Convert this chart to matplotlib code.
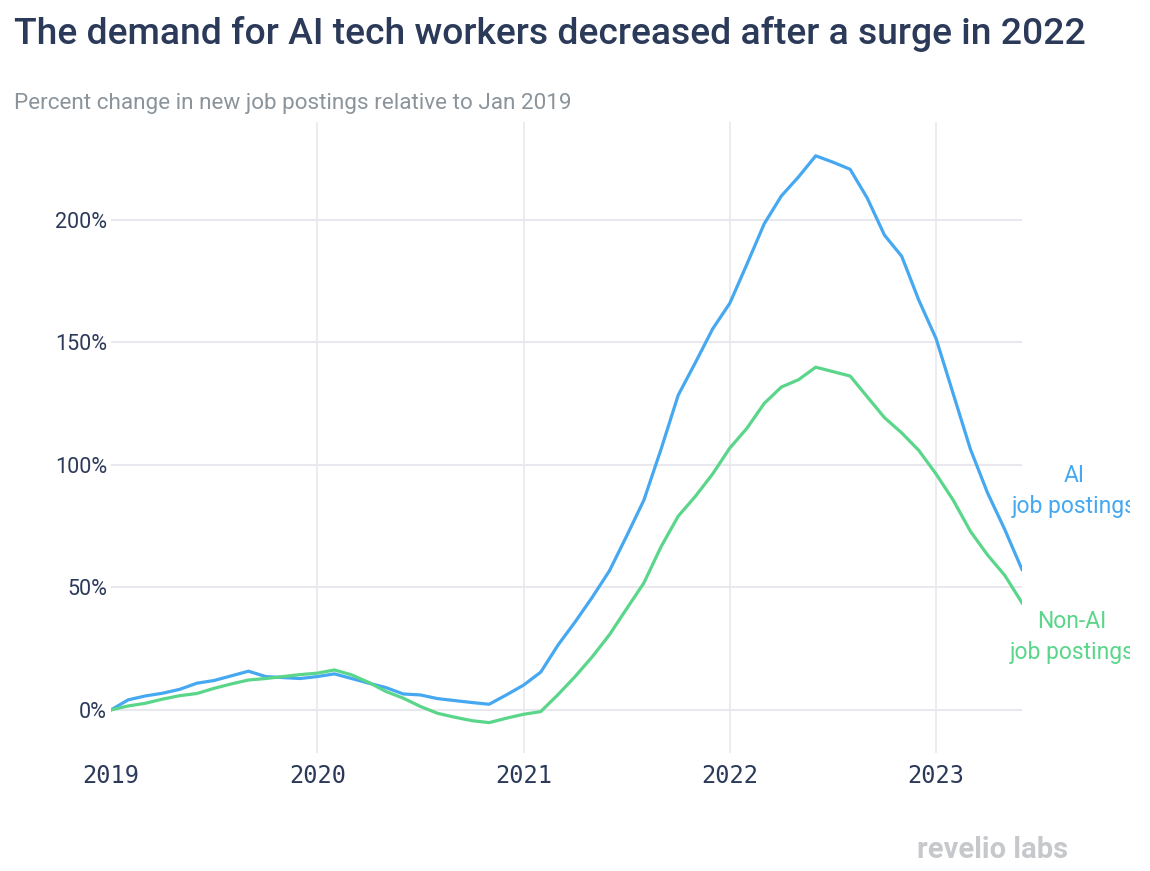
import matplotlib.pyplot as plt
import numpy as np
from matplotlib.transforms import Bbox

# monthly % change vs Jan 2019, Jan 2019 .. Jun 2023
ai_postings = [0, 4.1, 5.7, 6.8, 8.4, 10.9, 12.0, 13.9, 15.8, 13.6, 13.2, 12.8,
               13.6, 14.7, 12.8, 10.9, 9.1, 6.5, 6.1, 4.6, 3.8, 3.0, 2.3, 6.1,
               10.1, 15.4, 26.4, 35.9, 46.0, 56.8, 71.0, 85.6, 106.4, 128.5, 141.8, 155.5,
               166.0, 182.0, 198.4, 209.8, 217.6, 226.2, 223.6, 220.7, 208.9, 193.8, 185.2, 167.2,
               151.6, 129.0, 106.4, 88.5, 73.6, 57.3]
non_ai_postings = [0, 1.6, 2.7, 4.4, 5.8, 6.7, 8.8, 10.6, 12.2, 12.8, 13.6, 14.4,
                   15.0, 16.3, 14.3, 11.2, 7.5, 4.8, 1.4, -1.4, -3.0, -4.4, -5.2, -3.4,
                   -1.8, -0.7, 6.2, 13.6, 21.7, 30.7, 41.3, 51.8, 66.6, 79.1, 87.2, 96.3,
                   106.9, 115.0, 125.1, 131.8, 134.8, 139.9, 138.1, 136.3, 127.8, 119.3, 113.1, 105.9,
                   96.3, 85.6, 72.9, 63.2, 54.9, 43.7]
years = ["2019", "2020", "2021", "2022", "2023"]
y_ticks = [0, 50, 100, 150, 200]

months = np.arange(len(ai_postings))
year_pos = np.arange(len(years)) * 12

BLUE = "#45a8f0"
GREEN = "#5ad68a"
NAVY = "#2c3a5a"
GRID = "#e8e8ee"

W, H = 1150, 871
fig = plt.figure(figsize=(W / 100, H / 100), dpi=100)
ax = fig.add_axes([111 / W, (H - 753) / H, (1022 - 111) / W, (753 - 122) / H])

ax.plot(months, ai_postings, color=BLUE, lw=2.3, zorder=3)
ax.plot(months, non_ai_postings, color=GREEN, lw=2.3, zorder=3)

ax.set_xlim(0, len(months) - 1)
ax.set_ylim(-17.6, 240)

for s in ax.spines.values():
    s.set_visible(False)

ax.set_yticks(y_ticks)
ax.set_yticklabels([f"{v}%" for v in y_ticks], fontfamily="Roboto", fontsize=15.5, color=NAVY)
ax.set_xticks(year_pos)
ax.set_xticklabels(years, fontfamily="DejaVu Sans Mono", fontsize=17, color=NAVY)
ax.tick_params(axis="y", length=0, pad=3)
ax.tick_params(axis="x", length=0, pad=8)
ax.yaxis.grid(True, color=GRID, lw=1.5, zorder=0)
for xp in year_pos[1:]:
    ax.axvline(xp, color=GRID, lw=1.2, zorder=0)

# line labels at right, clipped at edge like the original
clip = Bbox.from_extents(0, 0, 1130, H)
t1 = fig.text(1074 / W, 1 - 491 / H, "AI\njob postings", ha="center", va="center",
              ma="center", fontfamily="Roboto", fontsize=16.5, color=BLUE, linespacing=1.45)
t2 = fig.text(1072 / W, 1 - 637 / H, "Non-AI\njob postings", ha="center", va="center",
              ma="center", fontfamily="Roboto", fontsize=16.5, color=GREEN, linespacing=1.45)
for t in (t1, t2):
    t.set_clip_box(clip)
    t.set_clip_on(True)

fig.text(14 / W, 1 - 34 / H, "The demand for AI tech workers decreased after a surge in 2022",
         ha="left", va="center", fontfamily="Roboto", fontweight="medium", fontsize=26.8, color=NAVY)
fig.text(14 / W, 1 - 104 / H, "Percent change in new job postings relative to Jan 2019",
         ha="left", va="center", fontfamily="Roboto", fontsize=16.2, color="#8b949b")
fig.text(993 / W, 1 - 850 / H, "revelio labs", ha="center", va="center",
         fontfamily="Roboto", fontweight="bold", fontsize=21, color="#c6c8cc")

fig.savefig("out.png", dpi=100)
